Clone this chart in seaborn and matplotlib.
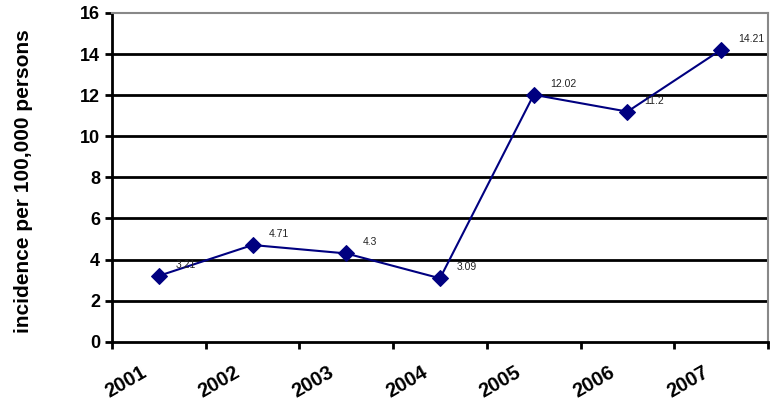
import matplotlib
matplotlib.use('Agg')
import matplotlib.pyplot as plt
import seaborn as sns
import pandas as pd

years = ['2001', '2002', '2003', '2004', '2005', '2006', '2007']
incidence = [3.21, 4.71, 4.3, 3.09, 12.02, 11.2, 14.21]
point_labels = ['3.21', '4.71', '4.3', '3.09', '12.02', '11.2', '14.21']

df = pd.DataFrame({'year': years, 'incidence': incidence})

sns.set_style('white')
plt.rcParams['font.family'] = ['Liberation Sans', 'DejaVu Sans']
plt.rcParams['text.color'] = 'black'
plt.rcParams['xtick.color'] = 'black'
plt.rcParams['ytick.color'] = 'black'
plt.rcParams['axes.labelcolor'] = 'black'

fig = plt.figure(figsize=(7.75, 4.05), dpi=100)
ax = fig.add_axes([0.1445, 0.156, 0.8465, 0.812])

sns.lineplot(data=df, x='year', y='incidence', ax=ax, color='#000080',
             marker='D', markersize=8.5, markeredgecolor='#000080', linewidth=1.5)

pos = list(range(len(years)))
for x, y, t in zip(pos, incidence, point_labels):
    ax.annotate(t, (x, y), xytext=(12, 8), textcoords='offset points',
                fontsize=7.5, ha='left', va='center', color='#222222')

ax.set_xlim(-0.5, len(years) - 0.5)
ax.set_ylim(0, 16)
ax.set_yticks(range(0, 17, 2))
ax.set_xticks([p - 0.5 for p in pos] + [len(years) - 0.5])
ax.set_xticklabels([])
# labels sit a little left of the category centre, like the original
ax.set_xticks([p - 0.2 for p in pos], minor=True)
ax.set_xticklabels(years, minor=True, rotation=30, ha='right',
                   rotation_mode='anchor', fontsize=14.5, fontweight='bold')

ax.tick_params(axis='x', which='major', length=5, width=2, color='black', bottom=True)
ax.tick_params(axis='x', which='minor', length=0, pad=15)
ax.tick_params(axis='y', length=5, width=2, color='black', left=True, labelsize=13)
for lbl in ax.get_yticklabels():
    lbl.set_fontweight('bold')

for yv in range(2, 16, 2):
    ax.axhline(yv, color='black', linewidth=2, zorder=0)

ax.spines['left'].set_color('black')
ax.spines['left'].set_linewidth(2)
ax.spines['bottom'].set_color('black')
ax.spines['bottom'].set_linewidth(2)
ax.spines['top'].set_color('#888888')
ax.spines['top'].set_linewidth(1.5)
ax.spines['right'].set_color('#888888')
ax.spines['right'].set_linewidth(1.5)

ax.set_xlabel('')
ax.set_ylabel('incidence per 100,000 persons', fontsize=15, fontweight='bold')
ax.yaxis.set_label_coords(-0.12, 0.49)

fig.savefig('out.png', dpi=100)
